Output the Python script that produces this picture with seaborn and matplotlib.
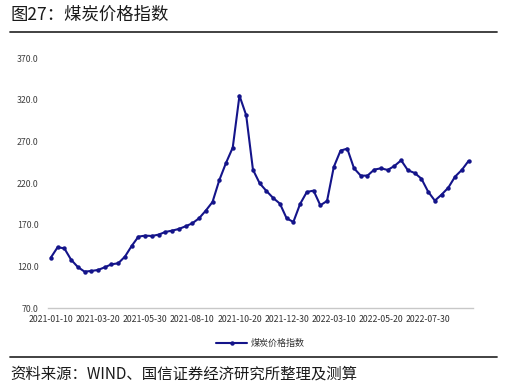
import matplotlib
matplotlib.use("Agg")
import matplotlib.pyplot as plt
import seaborn as sns
import pandas as pd
import numpy as np

sns.set_theme(style="white")
plt.rcParams['font.family'] = ['Noto Sans CJK SC', 'DejaVu Sans']

# Dekad dates from 2021-01-10 to 2022-09-30
dates = []
for yr in (2021, 2022):
    for m in range(1, 13):
        for d in (10, 20, 30):
            dd = 28 if (m == 2 and d == 30) else d
            dates.append(f"{yr}-{m:02d}-{dd:02d}")
dates = dates[:63]

values = [130.8, 143.2, 142.0, 128.4, 119.6, 114.0, 114.8, 116.0, 119.2, 122.8,
          124.0, 132.0, 144.8, 156.0, 157.2, 156.8, 158.4, 161.6, 163.2, 165.2,
          168.4, 172.0, 178.0, 187.2, 197.6, 223.6, 244.4, 262.8, 325.2, 301.6,
          236.4, 220.0, 210.8, 202.4, 195.6, 178.0, 173.6, 195.2, 209.6, 211.2,
          193.6, 198.8, 239.6, 259.2, 261.6, 238.0, 229.2, 229.2, 236.4, 238.0,
          236.0, 240.8, 247.6, 235.6, 232.4, 225.6, 210.0, 199.2, 206.4, 214.8,
          228.0, 236.0, 246.8]

series_name = "煤炭价格指数"
title = "图27：煤炭价格指数"
source = "资料来源：WIND、国信证券经济研究所整理及测算"
yticks = [70, 120, 170, 220, 270, 320, 370]

df = pd.DataFrame({"idx": np.arange(len(values)), "value": values, "date": dates})

fig = plt.figure(figsize=(5.12, 3.9), dpi=100)
ax = fig.add_axes([0.094, 0.2095, 0.829, 0.641])

sns.lineplot(data=df, x="idx", y="value", ax=ax, color="#14148a", linewidth=1.5,
             marker="o", markersize=3.2, markeredgewidth=0, label=series_name)

ax.set_xlim(-0.4, 62.6)
ax.set_ylim(70, 370)
ax.set_yticks(yticks)
ax.set_yticklabels([f"{v:.1f}" for v in yticks], fontsize=6.3, color="#404040")
tick_idx = list(range(0, len(dates), 7))
ax.set_xticks(tick_idx)
ax.set_xticklabels([dates[i] for i in tick_idx], fontsize=6.3, color="#303030")
ax.tick_params(axis='both', length=0)
ax.tick_params(axis='x', pad=5)
ax.tick_params(axis='y', pad=7)
ax.set_xlabel("")
ax.set_ylabel("")
for s in ("top", "right", "left"):
    ax.spines[s].set_visible(False)
ax.spines["bottom"].set_color("#c8c8c8")
ax.spines["bottom"].set_linewidth(1.0)
ax.grid(False)

leg = ax.legend(loc="center", bbox_to_anchor=(0.5, -0.14), frameon=False,
                fontsize=6.5, handlelength=3.5, handletextpad=0.4)
for t in leg.get_texts():
    t.set_color("#303030")

fig.text(0.02, 0.963, title, fontsize=12.5, ha="left", va="center", color="#1a1a1a")
fig.add_artist(plt.Line2D([0.02, 0.971], [0.918, 0.918], color="#333333", linewidth=1.3))
fig.add_artist(plt.Line2D([0.02, 0.971], [0.085, 0.085], color="#333333", linewidth=1.3))
fig.text(0.02, 0.042, source, fontsize=11.1, ha="left", va="center", color="#1a1a1a")

fig.savefig("out.png", dpi=100)
